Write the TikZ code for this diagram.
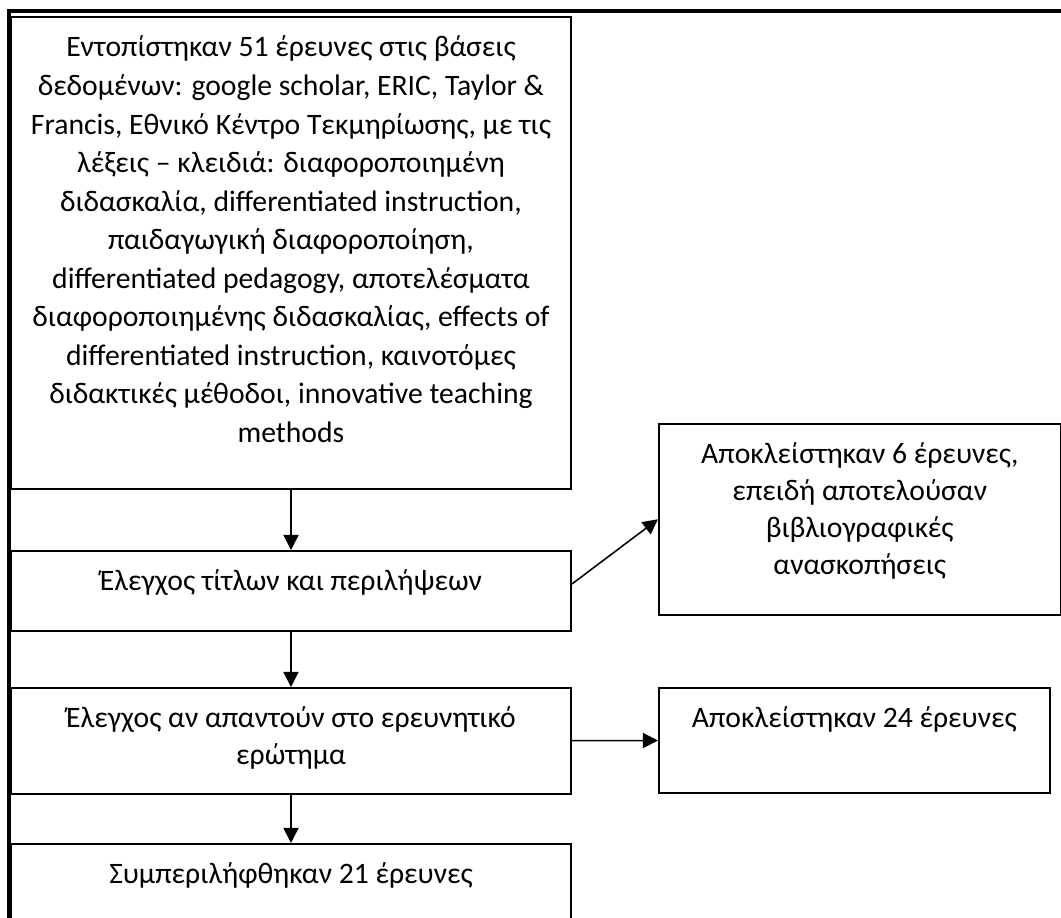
\documentclass[tikz,border=0pt]{standalone}
\usepackage{fontspec}
\setmainfont{Carlito}
\usetikzlibrary{arrows.meta}

\newlength{\px}
\setlength{\px}{0.025cm}
% text box: width, height, lines (top aligned, as in the word file)
\newcommand{\boxtext}[3]{\parbox[c][#2\px][t]{#1\px}{\centering\rule{0pt}{40\px}#3}}

\begin{document}
\begin{tikzpicture}[x=0.025cm, y=-0.025cm]
        \tikzstyle{every node}=[font=\fontsize{21.1}{26.3}\selectfont]
        \tikzstyle{stage}=[draw=black, line width=1.4pt, inner sep=0pt, anchor=north west]
        \tikzstyle{excluded}=[draw=black, line width=1.1pt, inner sep=0pt, anchor=north west]
        \tikzstyle{flow}=[line width=1.1pt, -{Triangle[length=10.7pt, width=10.7pt]}]

        \useasboundingbox (0,0) rectangle (1061,918);
        \clip (0,0) rectangle (1061,918);

        % Page border
        \draw[line width=2.85pt] (9,930) -- (9,11) -- (1070,11);

        % Main column
        \node[stage, font=\fontsize{21.1}{27.4}\selectfont] (search) at (10,16) {\boxtext{560}{472}{Εντοπίστηκαν 51 έρευνες στις βάσεις\\
            δεδομένων: google scholar, ERIC, Taylor \&\\
            Francis, Εθνικό Κέντρο Τεκμηρίωσης, με τις\\
            λέξεις – κλειδιά: διαφοροποιημένη\\
            διδασκαλία, differentiated instruction,\\
            παιδαγωγική διαφοροποίηση,\\
            differentiated pedagogy, αποτελέσματα\\
            διαφοροποιημένης διδασκαλίας, effects of\\
            differentiated instruction, καινοτόμες\\
            διδακτικές μέθοδοι, innovative teaching\\
            methods}};
        \node[stage] (titles) at (10,550) {\boxtext{560}{80}{Έλεγχος τίτλων και περιλήψεων}};
        \node[stage] (question) at (10,687) {\boxtext{560}{106}{Έλεγχος αν απαντούν στο ερευνητικό\\ερώτημα}};
        \node[stage] (included) at (10,843) {\boxtext{560}{100}{Συμπεριλήφθηκαν 21 έρευνες}};

        % Excluded studies
        \node[excluded] (reviews) at (658,423) {\boxtext{402}{191}{Αποκλείστηκαν 6 έρευνες,\\
            επειδή αποτελούσαν\\
            βιβλιογραφικές\\
            ανασκοπήσεις}};
        \node[excluded] (rejected) at (658,687) {\boxtext{391}{105}{Αποκλείστηκαν 24 έρευνες}};

        % Arrows
        \draw[flow] (search) -- (titles);
        \draw[flow] ([yshift=5pt]titles.east) -- (reviews.west);
        \draw[flow] (titles) -- (question);
        \draw[flow] (question) -- (rejected);
        \draw[flow] (question) -- (included);
\end{tikzpicture}
\end{document}
